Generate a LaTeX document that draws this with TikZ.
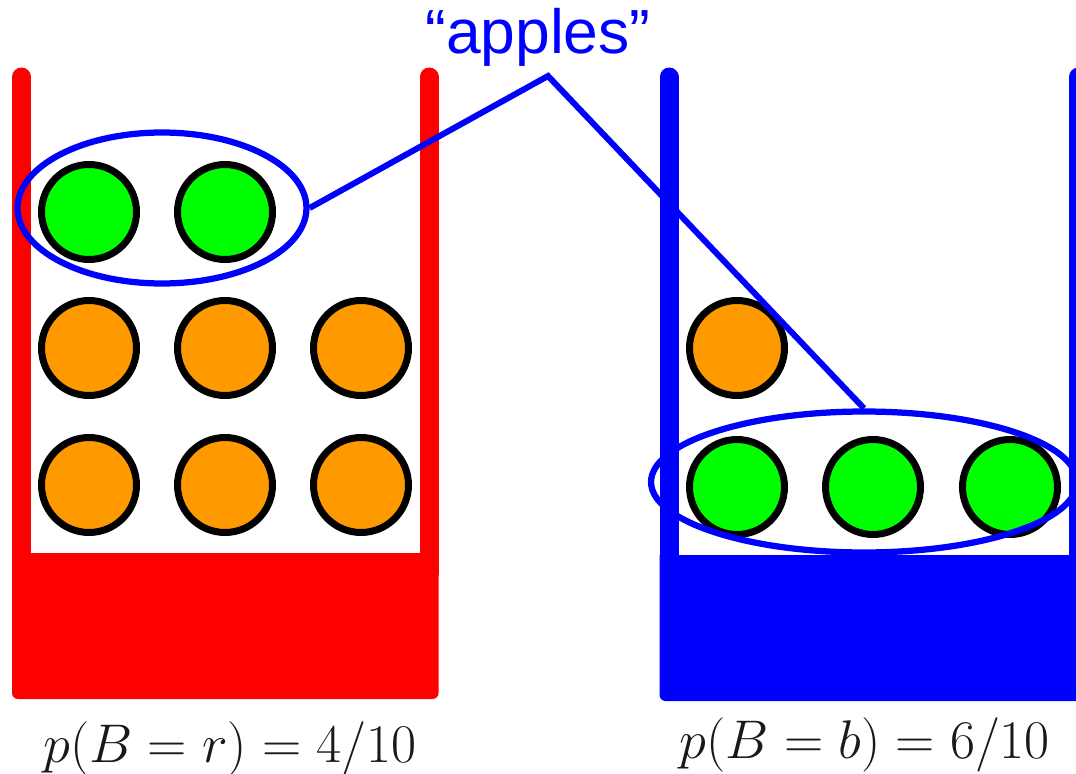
\RequirePackage{fix-cm}
\documentclass[tikz,border=0pt]{standalone}
\usepackage{fontspec}
\usepackage{tikz}
\usetikzlibrary{shapes.geometric}
\newfontfamily\wordfont{Liberation Sans}
\definecolor{boxred}{RGB}{255,0,0}
\definecolor{boxblue}{RGB}{0,0,255}
\definecolor{applegreen}{RGB}{0,255,0}
\definecolor{orangefruit}{RGB}{255,153,0}
\newcommand{\fruitbox}[4]{%
  \draw[#4,line width=0.38cm,line cap=round] (#1,77) -- (#1,{#3+20});%
  \draw[#4,line width=0.38cm,line cap=round] (#2,77) -- (#2,{#3+20});%
  \fill[#4] ({#1-9.5},#3) [rounded corners=0.12cm] -- ({#1-9.5},{#3+146})
    -- ({#2+9.5},{#3+146}) [sharp corners] -- ({#2+9.5},#3) -- cycle;%
}

\begin{document}
\begin{tikzpicture}[x=0.02cm,y=-0.02cm,
  fruit/.style={circle,draw=black,line width=0.14cm,minimum size=1.9cm,inner sep=0pt},
  group/.style={ellipse,draw=boxblue,line width=0.125cm,inner sep=0pt}]
  \useasboundingbox (0,0) rectangle (1076,774);
  \clip (0,0) rectangle (1076,774);
  \fruitbox{21.5}{429}{553}{boxred}
  \fruitbox{669}{1078.5}{555}{boxblue}
  \foreach \fx/\fy/\fc [count=\i] in {89/212/applegreen,225/212/applegreen,
      89/348/orangefruit,225/348/orangefruit,361/348/orangefruit,
      89/485/orangefruit,225/485/orangefruit,361/485/orangefruit}
    \node[fruit,fill=\fc] (r\i) at (\fx,\fy) {};
  \foreach \fx/\fy/\fc [count=\i] in {737/348/orangefruit,
      737/487/applegreen,873/487/applegreen,1010/487/applegreen}
    \node[fruit,fill=\fc] (b\i) at (\fx,\fy) {};
  \node[group,minimum width=5.78cm,minimum height=3.02cm] (redapples) at (162,208) {};
  \node[group,minimum width=8.52cm,minimum height=2.82cm] (blueapples) at (864,482) {};
  \node[anchor=base,text=boxblue,font=\wordfont\fontsize{35.5}{40}\selectfont] (word) at (538,53) {“apples”};
  \coordinate (tip) at (548,76);
  \draw[boxblue,line width=0.12cm] (redapples.east) -- (tip) -- (blueapples.north);
  \node[anchor=base,text=black!90,font=\fontsize{31}{34}\selectfont] (pred) at (230,762) {$p(B=r)=4/10$};
  \node[anchor=base,text=black!90,font=\fontsize{31}{34}\selectfont] (pblue) at (865,758) {$p(B=b)=6/10$};
\end{tikzpicture}
\end{document}
